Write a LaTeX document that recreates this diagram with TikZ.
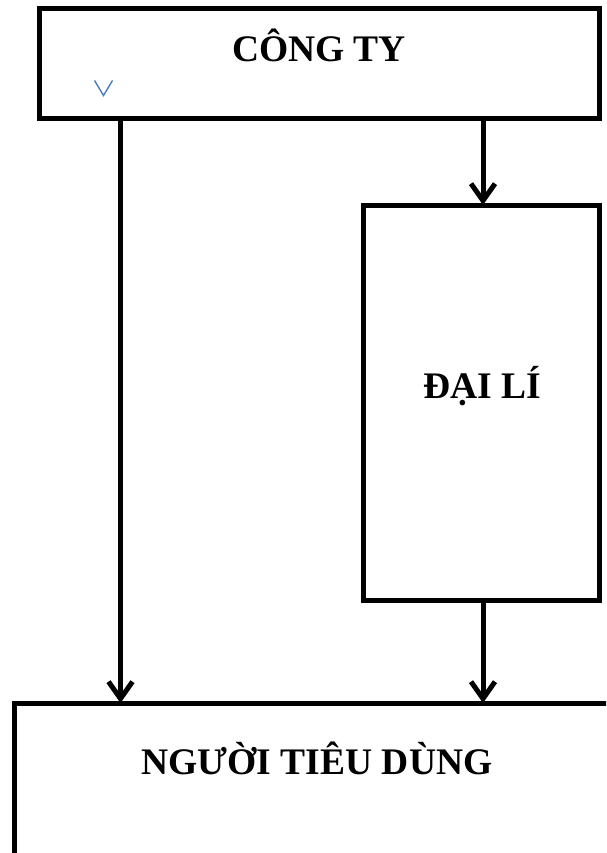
\documentclass[tikz,border=0pt]{standalone}
\usepackage{fontspec}
\setmainfont{Liberation Serif}
\usetikzlibrary{arrows.meta,calc}
\definecolor{vblue}{RGB}{74,126,190}
\tikzset{
  box/.style={draw=black, line width=5pt, rectangle, inner sep=0pt, outer sep=0pt, fill=white},
  lbl/.style={font=\fontsize{37.5}{42}\selectfont\bfseries, inner sep=0pt, anchor=base},
  conn/.style={line width=5pt, -{Straight Barb[length=17pt,width=24pt]}}
}
\begin{document}
\begin{tikzpicture}[x=1pt,y=-1pt]
\useasboundingbox (0,0) rectangle (606,853);
\clip (0,0) rectangle (606,853);
\fill[white] (0,0) rectangle (606,853);
% boxes (border centre lines)
\node[box, minimum width=560pt, minimum height=110.5pt] (cty) at (319.5,63.75) {};
\node[box, minimum width=236pt, minimum height=395pt] (dl) at (481.5,402.5) {};
\node[box, minimum width=610pt, minimum height=170pt] (ntd) at (319.5,788) {};
% labels
\node[lbl] (tcty) at (319,62) {CÔNG TY};
\node[lbl] (tdl) at (482,398) {ĐẠI LÍ};
\node[lbl] (tntd) at (317,774) {NGƯỜI TIÊU DÙNG};
% stray blue mark
\draw[vblue, line width=1.4pt, line join=miter] (94.5,80.5) -- (103.5,95.5) -- (112.5,80.5);
% connectors
\coordinate (xl) at (120.5,0);
\coordinate (xr) at (483,0);
\draw[conn] (cty.south -| xl) -- (ntd.north -| xl);
\draw[conn] (cty.south -| xr) -- (dl.north -| xr);
\draw[conn] (dl.south -| xr) -- (ntd.north -| xr);
\end{tikzpicture}
\end{document}
